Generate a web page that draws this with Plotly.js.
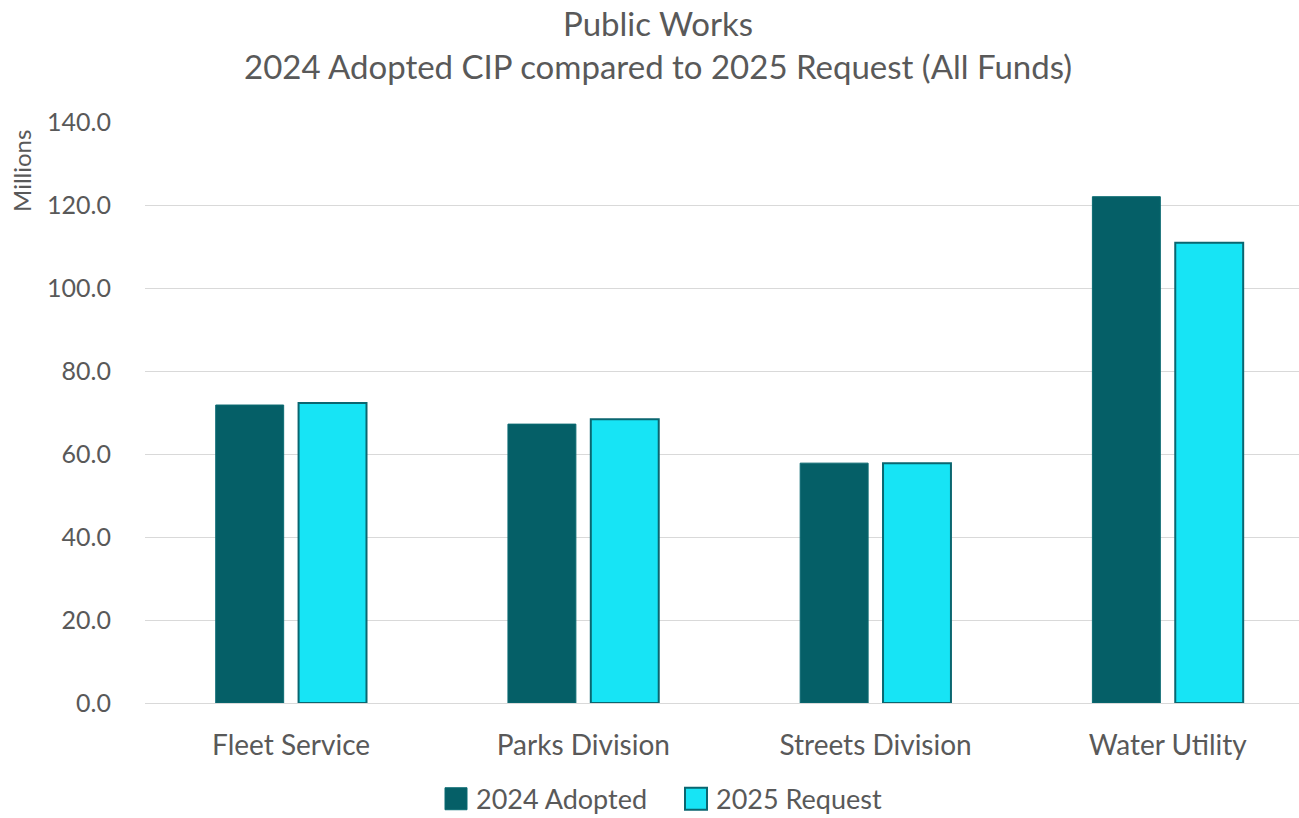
<!DOCTYPE html>
<html>
<head>
<meta charset="utf-8">
<script src="https://cdn.plot.ly/plotly-3.0.1.min.js"></script>
<style>html,body{margin:0;padding:0;background:#fff;}#chart{width:1299px;height:818px;}</style>
</head>
<body>
<div id="chart"></div>
<script>
const categories = ["Fleet Service", "Parks Division", "Streets Division", "Water Utility"];
const adopted2024 = [71.8, 67.2, 57.8, 122.0];
const request2025 = [72.3, 68.4, 57.8, 110.9];
const yTickVals = [0, 20, 40, 60, 80, 100, 120, 140];
const yTickText = ["0.0", "20.0", "40.0", "60.0", "80.0", "100.0", "120.0", "140.0"];
const yAxisLabel = "Millions";

const FONT = "Lato, 'Open Sans', sans-serif";
const TXT = "#595959";

const traces = [
  {
    type: "bar", name: "2024 Adopted", x: categories, y: adopted2024,
    marker: {color: "#055F67", line: {color: "#0B6A72", width: 1}},
    hoverinfo: "x+y+name", legend: "legend"
  },
  {
    type: "bar", name: "2025 Request", x: categories, y: request2025,
    marker: {color: "#17E4F5", line: {color: "#0A6670", width: 2}},
    hoverinfo: "x+y+name", legend: "legend2"
  }
];

const legendBase = {
  orientation: "h", xanchor: "left", xref: "container",
  y: 0.023, yref: "container", yanchor: "middle",
  font: {family: FONT, size: 27, color: TXT},
  itemwidth: 30, bgcolor: "rgba(0,0,0,0)"
};

const layout = {
  width: 1299, height: 818,
  paper_bgcolor: "#ffffff", plot_bgcolor: "#ffffff",
  font: {family: FONT, color: TXT, size: 24},
  title: {
    text: "Public Works<br>2024 Adopted CIP compared to 2025 Request (All Funds)",
    font: {family: FONT, size: 33, color: TXT},
    x: 0.5066, xref: "container", xanchor: "center",
    y: 0.956, yref: "container", yanchor: "middle"
  },
  margin: {l: 145, r: 0, t: 122, b: 115},
  barmode: "group",
  bargap: 0.433,
  bargroupgap: 0.18,
  xaxis: {
    type: "category",
    range: [-0.5, 3.449],
    showgrid: false, zeroline: false, showline: false,
    ticks: "", tickfont: {family: FONT, size: 28, color: TXT},
    ticklabelstandoff: 23
  },
  yaxis: {
    range: [0, 140],
    tickvals: yTickVals, ticktext: yTickText,
    showgrid: true, gridcolor: "#D9D9D9", gridwidth: 1.3,
    zeroline: true, zerolinecolor: "#D9D9D9", zerolinewidth: 1.3,
    showline: false, ticks: "",
    tickfont: {family: FONT, size: 25, color: TXT},
    ticklabelstandoff: 33
  },
  annotations: [{
    text: yAxisLabel, textangle: -90,
    xref: "paper", yref: "paper",
    x: -0.1066, y: 0.9157, xanchor: "center", yanchor: "middle",
    showarrow: false,
    font: {family: FONT, size: 24, color: TXT}
  }],
  showlegend: true,
  legend: Object.assign({}, legendBase, {x: 436 / 1299}),
  legend2: Object.assign({}, legendBase, {x: 676 / 1299})
};

Plotly.newPlot("chart", traces, layout, {displayModeBar: false, responsive: false}).then(function (gd) {
  // enlarge legend swatches to match the reference's large square keys
  gd.querySelectorAll(".legendpoints path").forEach(function (p) {
    p.setAttribute("d", "M11,11H-11V-11H11Z");
  });
});
</script>
</body>
</html>
